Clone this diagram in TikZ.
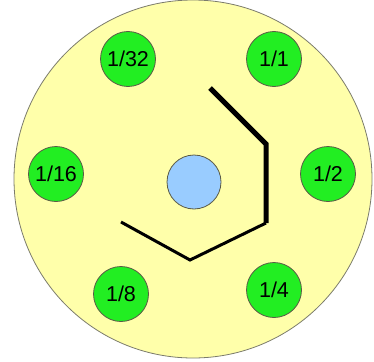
\documentclass[tikz,border=0pt]{standalone}
\usepackage{fontspec}
\setmainfont{Liberation Sans}
\definecolor{dialfill}{RGB}{255,255,170}
\definecolor{stopfill}{RGB}{34,238,34}
\definecolor{hubfill}{RGB}{153,204,255}
\definecolor{rim}{RGB}{90,90,70}
\begin{document}
\begin{tikzpicture}[x=1pt,y=-1pt,
  stop/.style={circle,draw=rim,line width=0.8pt,fill=stopfill,minimum size=55pt,inner sep=0pt,font=\fontsize{21.5}{21.5}\selectfont},
  hub/.style={circle,draw=rim,line width=0.8pt,fill=hubfill,minimum size=54pt,inner sep=0pt},
  dial/.style={circle,draw=rim!80,line width=0.8pt,fill=dialfill,minimum size=358pt,inner sep=0pt},
  heavy/.style={line width=5pt,line join=miter},
  light/.style={line width=3pt,line join=miter}]
\useasboundingbox (0,0) rectangle (374,361);
\node[dial] (plate) at (193,179) {};
\node[hub] (hub) at (194,182) {};
\node[stop] (s32) at (128,59) {1/32};
\node[stop] (s1) at (274,59) {1/1};
\node[stop] (s16) at (56,174) {1/16};
\node[stop] (s2) at (328,174) {1/2};
\node[stop] (s8) at (121,294) {1/8};
\node[stop] (s4) at (274,290) {1/4};
\coordinate (p0) at (210,88);
\coordinate (p1) at (266,144);
\coordinate (p2) at (266,223);
\coordinate (p3) at (190,260);
\coordinate (p4) at (121,222);
\draw[heavy] (p0) -- (p1) -- (p2);
\draw[light] (p2) -- (p3) -- (p4);
\end{tikzpicture}
\end{document}
